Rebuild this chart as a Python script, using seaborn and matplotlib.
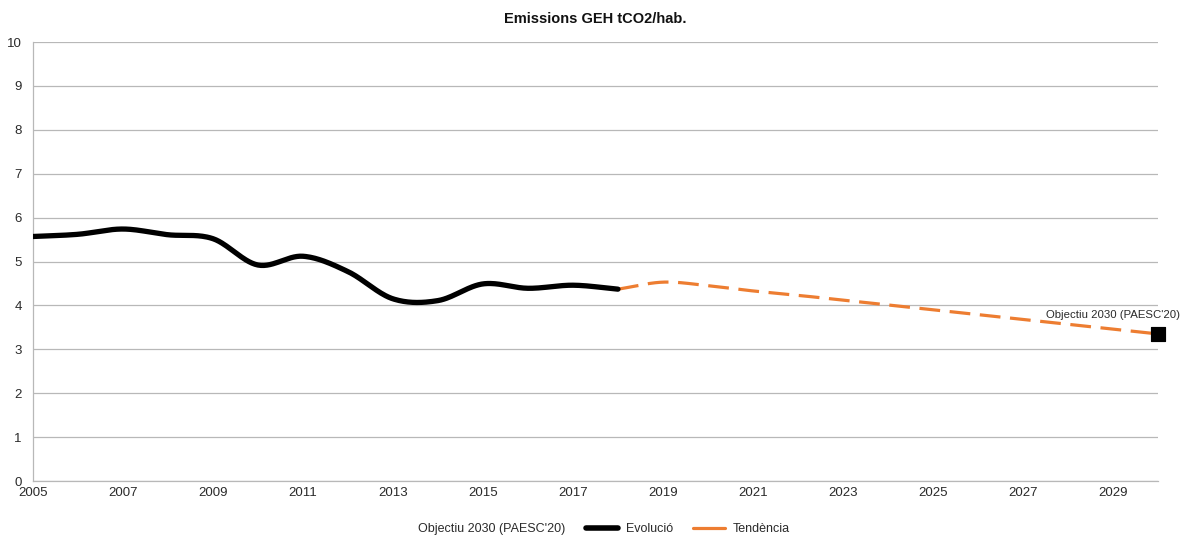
import numpy as np
import pandas as pd
import matplotlib
matplotlib.use("Agg")
import matplotlib.pyplot as plt
from matplotlib.lines import Line2D
import seaborn as sns

# Emissions per inhabitant (tCO2/hab.)
evol_years = [2005, 2006, 2007, 2008, 2009, 2010, 2011, 2012, 2013, 2014, 2015, 2016, 2017, 2018]
evol_values = [5.57, 5.62, 5.74, 5.61, 5.52, 4.92, 5.12, 4.77, 4.15, 4.11, 4.49, 4.39, 4.46, 4.37]

trend_years = [2018, 2019, 2020, 2021, 2022, 2023, 2024, 2025, 2026, 2027, 2028, 2029, 2030]
trend_values = [4.37, 4.53, 4.45, 4.33, 4.23, 4.12, 4.01, 3.90, 3.79, 3.68, 3.57, 3.46, 3.35]

target_year = [2030]
target_value = [3.35]
target_label = "Objectiu 2030 (PAESC'20)"

x_ticks = list(range(2005, 2030, 2))
y_ticks = list(range(0, 11))


def smooth(xs, ys, n=30):
    """Catmull-Rom curve through the given points (smoothed line style)."""
    xs = np.asarray(xs, float)
    ys = np.asarray(ys, float)
    px = np.concatenate([[2 * xs[0] - xs[1]], xs, [2 * xs[-1] - xs[-2]]])
    py = np.concatenate([[2 * ys[0] - ys[1]], ys, [2 * ys[-1] - ys[-2]]])
    out_x, out_y = [], []
    for i in range(1, len(px) - 2):
        t = np.linspace(0, 1, n, endpoint=False)
        mx0 = (px[i + 1] - px[i - 1]) / 2
        mx1 = (px[i + 2] - px[i]) / 2
        my0 = (py[i + 1] - py[i - 1]) / 2
        my1 = (py[i + 2] - py[i]) / 2
        h00 = 2 * t**3 - 3 * t**2 + 1
        h10 = t**3 - 2 * t**2 + t
        h01 = -2 * t**3 + 3 * t**2
        h11 = t**3 - t**2
        out_x.extend(h00 * px[i] + h10 * mx0 + h01 * px[i + 1] + h11 * mx1)
        out_y.extend(h00 * py[i] + h10 * my0 + h01 * py[i + 1] + h11 * my1)
    out_x.append(xs[-1])
    out_y.append(ys[-1])
    return pd.DataFrame({"year": out_x, "value": out_y})


sns.set_theme(style="white")
plt.rcParams["font.family"] = ["Liberation Sans", "DejaVu Sans"]

fig = plt.figure(figsize=(11.85, 5.36), dpi=100)
ax = fig.add_axes([0.0278, 0.1026, 0.9494, 0.819])

grid_col = "#b8b8b8"
text_col = "#2a2a2a"
evol_df = smooth(evol_years, evol_values)
trend_df = smooth(trend_years, trend_values)

sns.lineplot(data=trend_df, x="year", y="value", ax=ax, color="#ed7d31",
             linewidth=2.3, sort=False, dashes=False, zorder=3)
ax.lines[-1].set_dashes((6.5, 3.0))
sns.lineplot(data=evol_df, x="year", y="value", ax=ax, color="black",
             linewidth=3.8, sort=False, zorder=4)
sns.scatterplot(x=target_year, y=target_value, ax=ax, marker="s", s=110,
                color="black", edgecolor="black", zorder=5)
ax.collections[-1].set_clip_on(False)
ax.annotate(target_label, (target_year[0], target_value[0]), xytext=(16, 10),
            textcoords="offset points", ha="right", va="bottom",
            fontsize=8.2, color=text_col, annotation_clip=False)

ax.set_xlim(2005, 2030)
ax.set_ylim(0, 10)
ax.set_xticks(x_ticks)
ax.set_yticks(y_ticks)
ax.set_xlabel("")
ax.set_ylabel("")
ax.yaxis.grid(True, color=grid_col, linewidth=0.9)
ax.xaxis.grid(False)
for side in ["top", "right"]:
    ax.spines[side].set_visible(False)
for side in ["left", "bottom"]:
    ax.spines[side].set_color(grid_col)
    ax.spines[side].set_linewidth(0.9)
ax.tick_params(axis="both", which="both", length=4, width=0.9, color=grid_col,
               labelsize=9.5, labelcolor=text_col, direction="out", pad=4)
ax.tick_params(axis="x", direction="inout", length=6, pad=1)

ax.set_title("Emissions GEH tCO2/hab.", fontsize=10.5, fontweight="bold",
             color="#111111", pad=14)

handles = [
    Line2D([], [], linestyle="none", marker=None),
    Line2D([], [], color="black", linewidth=4),
    Line2D([], [], color="#ed7d31", linewidth=2.3),
]
labels = [target_label, "Evolució", "Tendència"]
fig.legend(handles, labels, loc="center", bbox_to_anchor=(0.493, 0.013), ncol=3,
           frameon=False, fontsize=9, handlelength=2.6, handletextpad=0.6,
           columnspacing=1.6, labelcolor=text_col)

fig.savefig("out.png", dpi=100)
